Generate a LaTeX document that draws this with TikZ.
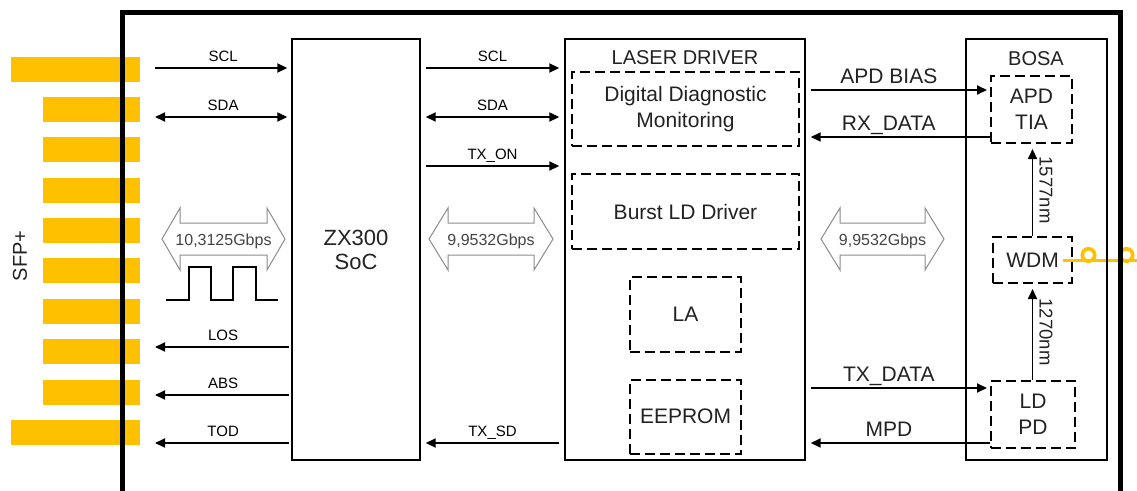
\documentclass[tikz,border=0pt]{standalone}
\usepackage{fontspec}
\setmainfont{Liberation Sans}
\usetikzlibrary{arrows.meta,calc}
\definecolor{pinyel}{HTML}{FFC000}
\definecolor{holc}{HTML}{8C8C8C}
\definecolor{txt}{HTML}{222222}
\definecolor{htxt}{HTML}{444444}
\begin{document}
\begin{tikzpicture}[x=1pt,y=-1pt,
 sm/.style={font=\fontsize{15}{18}\selectfont},
 bg/.style={font=\fontsize{21}{26}\selectfont, text=txt, align=center},
 blk/.style={draw, line width=1.4pt, inner sep=0pt},
 dbox/.style={draw, line width=2pt, dash pattern=on 10pt off 5pt, inner sep=0pt, bg},
 arr/.style={line width=1.8pt, -{Triangle[length=10pt,width=9pt]}},
 darr/.style={line width=1.8pt, {Triangle[length=10pt,width=9pt]}-{Triangle[length=10pt,width=9pt]}},
 holarr/.style={draw=holc, line width=1pt, fill=white},
 hlbl/.style={font=\fontsize{16}{18}\selectfont, text=htxt, anchor=base},
 lbl/.style={midway, anchor=base, yshift=7pt},
 wl/.style={rotate=-90, anchor=base, font=\fontsize{18.5}{20}\selectfont, text=txt},
 fib/.style={draw=pinyel, line width=3.6pt},
]
\fill[white] (0,0) rectangle (1137,490);
\useasboundingbox (0,0) rectangle (1137,490);

% pins
\foreach \y/\x in {57/11, 97/43, 137/43, 178/43, 218/43, 258/43, 299/43, 339/43, 380/43, 420/11}
  \fill[pinyel] (\x,\y) rectangle (140,\y+25);
\node[rotate=90, font=\fontsize{20}{24}\selectfont, text=txt] (sfp) at (20,256) {SFP+};

% fiber
\draw[fib] (1063,260.5) -- (1137,260.5);
\draw[fib] (1088.5,255) circle (6.2);
\draw[fib] (1126.5,255) circle (6.2);

% main blocks
\node[blk, bg, font=\fontsize{22}{24}\selectfont, minimum width=128pt, minimum height=421pt] (soc) at (356,249.5) {ZX300\\SoC};
\node[blk, minimum width=240pt, minimum height=421pt] (ld) at (685,249.5) {};
\node[bg, font=\fontsize{20}{24}\selectfont] (ldt) at (685,58) {LASER DRIVER};
\node[blk, minimum width=141pt, minimum height=421pt] (bosa) at (1036.5,249.5) {};
\node[bg, font=\fontsize{20}{24}\selectfont] (bosat) at (1036,59) {BOSA};

% dashed sub-blocks
\node[dbox, minimum width=227pt, minimum height=74pt] (ddm) at (685.5,109) {Digital Diagnostic\\Monitoring};
\node[dbox, minimum width=227pt, minimum height=75pt] (bld) at (685.5,211.5) {Burst LD Driver};
\node[dbox, minimum width=111pt, minimum height=75pt] (la) at (685.5,314.5) {LA};
\node[dbox, minimum width=111pt, minimum height=74pt] (eep) at (685.5,416.5) {EEPROM};
\node[dbox, minimum width=81pt, minimum height=67pt] (apd) at (1031.5,109.5) {APD\\TIA};
\node[dbox, minimum width=79pt, minimum height=46pt] (wdm) at (1032.5,260) {WDM};
\node[dbox, minimum width=84pt, minimum height=67pt] (ldpd) at (1033,414.5) {LD\\PD};

% left side signals
\coordinate (q1) at (155,68);
\coordinate (q2) at (155,117);
\coordinate (q3) at (155,347);
\coordinate (q4) at (155,395);
\coordinate (q5) at (155,443);
\draw[arr, shorten >=4pt] (q1) -- node[lbl, sm]{SCL} (q1 -| soc.west);
\draw[darr, shorten >=4pt] (q2) -- node[lbl, sm]{SDA} (q2 -| soc.west);
\draw[arr, shorten <=2pt] (q3 -| soc.west) -- node[lbl, sm]{LOS} (q3);
\draw[arr, shorten <=2pt] (q4 -| soc.west) -- node[lbl, sm]{ABS} (q4);
\draw[arr, shorten <=2pt] (q5 -| soc.west) -- node[lbl, sm]{TOD} (q5);

% hollow arrow + square wave (left)
\draw[holarr] (162,239) -- (180,208) -- (180,223) -- (267,223) -- (267,208) -- (285,239) -- (267,270) -- (267,255) -- (180,255) -- (180,270) -- cycle;
\node[hlbl] (r1) at (223.5,245) {10,3125Gbps};
\draw[line width=2pt] (166,300) -- (189,300) -- (189,267) -- (211,267) -- (211,300) -- (233,300) -- (233,267) -- (256,267) -- (256,300) -- (278,300);

% SoC <-> Laser driver
\draw[arr, shorten <=5pt, shorten >=5pt] (soc.east |- 0,68) -- node[lbl, sm]{SCL} (ld.west |- 0,68);
\draw[darr, shorten <=5pt, shorten >=5pt] (soc.east |- 0,117) -- node[lbl, sm]{SDA} (ld.west |- 0,117);
\draw[arr, shorten <=5pt, shorten >=5pt] (soc.east |- 0,166) -- node[lbl, sm]{TX\_ON} (ld.west |- 0,166);
\draw[arr, shorten <=5pt, shorten >=5pt] (ld.west |- 0,443) -- node[lbl, sm]{TX\_SD} (soc.east |- 0,443);
\draw[holarr] (429,239) -- (448,208) -- (448,223) -- (534,223) -- (534,208) -- (553,239) -- (534,270) -- (534,255) -- (448,255) -- (448,270) -- cycle;
\node[hlbl] (r2) at (491,245) {9,9532Gbps};

% Laser driver <-> BOSA
\draw[arr, shorten <=5pt, shorten >=3pt] (ld.east |- 0,90) -- node[lbl, bg, xshift=-9pt]{APD BIAS} (apd.west |- 0,90);
\draw[arr, shorten >=5pt] (apd.west |- 0,137) -- node[lbl, bg, xshift=-9pt]{RX\_DATA} (ld.east |- 0,137);
\draw[arr, shorten <=5pt, shorten >=3pt] (ld.east |- 0,388) -- node[lbl, bg, xshift=-9pt]{TX\_DATA} (ldpd.west |- 0,388);
\draw[arr, shorten >=5pt] (ldpd.west |- 0,443) -- node[lbl, bg, xshift=-9pt]{MPD} (ld.east |- 0,443);
\draw[holarr] (821,239) -- (840,208) -- (840,223) -- (925,223) -- (925,208) -- (944,239) -- (925,270) -- (925,255) -- (840,255) -- (840,270) -- cycle;
\node[hlbl] (r3) at (882.5,245) {9,9532Gbps};

% inside BOSA
\draw[arr, shorten >=5pt] (wdm.north) -- (wdm.north |- apd.south);
\draw[arr, shorten >=5pt] (wdm.south |- ldpd.north) -- (wdm.south);
\node[wl] (w1) at ($(wdm.north)!0.5!(wdm.north |- apd.south)+(7,0)$) {1577nm};
\node[wl] (w2) at ($(wdm.south)!0.5!(wdm.south |- ldpd.north)+(7,0)$) {1270nm};

% module outline
\draw[line width=5pt, line join=miter] (122.5,492) -- (122.5,12.5) -- (1120.5,12.5) -- (1120.5,492);
\end{tikzpicture}
\end{document}
